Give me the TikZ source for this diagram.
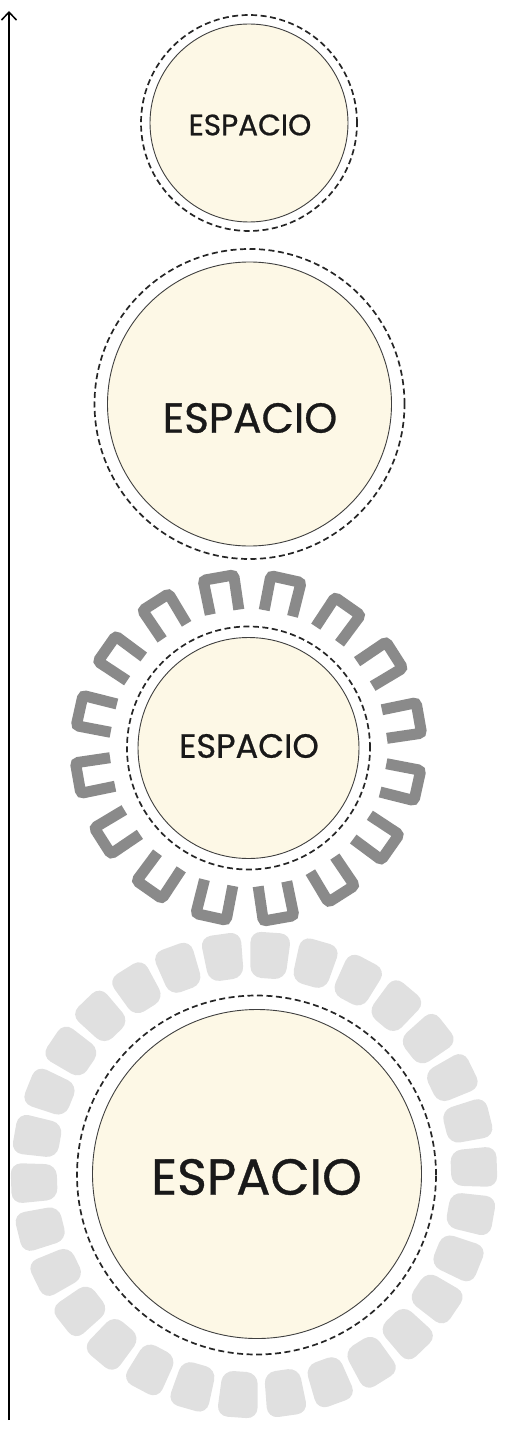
\documentclass[tikz,border=0pt]{standalone}
\usepackage{fontspec}
\setmainfont{Poppins}
\usetikzlibrary{arrows.meta}
\definecolor{crema}{RGB}{253,248,230}
\definecolor{arco}{RGB}{138,138,138}
\definecolor{asiento}{RGB}{224,224,224}
\newcommand\letrero[1]{\fontsize{#1}{#1}\selectfont\addfontfeature{FakeBold=0.7}}
\begin{document}
\begin{tikzpicture}[x=1pt,y=1pt,>={Straight Barb[length=8pt,width=15pt]},
  sala/.style={circle,draw=black!75,line width=0.9pt,fill=crema,inner sep=0pt},
  borde/.style={draw=black!85,dash pattern=on 6pt off 3.5pt,line width=1.7pt},
  rotulo/.style={inner sep=0pt,text=black!90}]
\useasboundingbox (0,0) rectangle (511,-1439);
% eje vertical
\coordinate (base) at (9,-1420);
\coordinate (cima) at (9,-11);
\draw[->,line width=1.5pt] (base) -- (cima);
% gradas y asientos
\foreach \a in {0,...,15}
  \draw[arco,line width=11pt,rounded corners=3pt,shift={(248.5,-748)},rotate={10+22.5*\a-90}]
    (-14.5,138) -- (-15.5,173) -- (15.5,173) -- (14.5,138);
\foreach \a in {0,...,29}
  \fill[asiento,rounded corners=11pt,shift={(254,-1175)},rotate={2+12*\a-90}]
    (-17.5,197) -- (-20.5,243) -- (20.5,243) -- (17.5,197) -- cycle;
% espacios
\node[sala,minimum size=198pt] (c1) at (249,-123) {};
\node[sala,minimum size=284pt] (c2) at (249.5,-404) {};
\node[sala,minimum size=221pt] (c3) at (248.5,-748) {};
\node[sala,minimum size=329pt] (c4) at (257,-1174) {};
\draw[borde] (c1.center) circle (108);
\draw[borde] (c2.center) circle (155);
\draw[borde] (c3.center) circle (121.5);
\draw[borde] (256.5,-1175) circle (179.5);
\node[rotulo,font=\letrero{29.5}] (t1) at (250,-125) {ESPACIO};
\node[rotulo,font=\letrero{42}] (t2) at (250,-418) {ESPACIO};
\node[rotulo,font=\letrero{33.6}] (t3) at (249,-746) {ESPACIO};
\node[rotulo,font=\letrero{50.7}] (t4) at (256.5,-1177) {ESPACIO};
\end{tikzpicture}
\end{document}
